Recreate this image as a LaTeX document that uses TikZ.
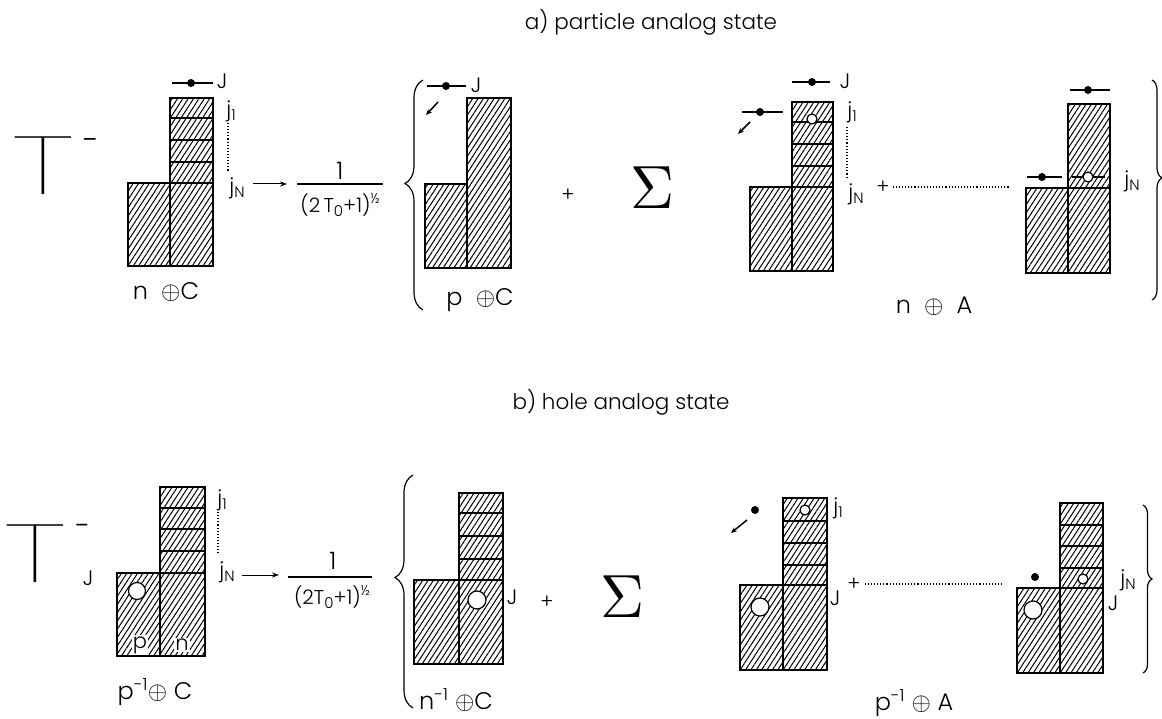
\documentclass[tikz,border=0pt]{standalone}
\usepackage{fontspec}
\usetikzlibrary{patterns.meta,decorations.pathreplacing,arrows.meta}
\IfFontExistsTF{Poppins Light}{\newfontfamily\lf{Poppins Light}}{\newfontfamily\lf{Poppins}}
\IfFontExistsTF{Poppins Thin}{\newfontfamily\tf{Poppins Thin}}{\newfontfamily\tf{Poppins Light}}
\newcommand{\lsub}[1]{\raisebox{-0.35ex}{\fontsize{15}{15}\selectfont #1}}
\newcommand{\lsup}[1]{\raisebox{0.9ex}{\fontsize{14}{14}\selectfont #1}}
\begin{document}
\begin{tikzpicture}[x=1pt,y=-1pt,
  hatch/.style={draw,line width=1.6pt,pattern={Lines[angle=57,distance=4.5pt,line width=1pt]}},
  hole/.style={draw,fill=white,line width=1.2pt},
  part/.style={line width=1.4pt},
  lbl/.style={inner sep=0pt,font=\lf\fontsize{24}{28}\selectfont},
  frc/.style={inner sep=0pt,font=\lf\fontsize{20}{24}\selectfont},
  jlab/.style={inner sep=0pt,font=\lf\fontsize{21}{24}\selectfont},
  small/.style={inner sep=0pt,font=\lf\fontsize{20}{22}\selectfont},
  ttl/.style={inner sep=0pt,font=\lf\fontsize{21.5}{24}\selectfont},
  bigT/.style={inner sep=0pt,font=\tf\fontsize{82}{82}\selectfont,xscale=1.6},
  arr/.style={-{Stealth[length=7pt,width=5pt]},line width=1pt},
  sarr/.style={-{Stealth[length=6pt,width=5pt]},line width=1.5pt},
  dots/.style={dotted,line width=1.1pt},
  brc/.style={decorate,line width=1.2pt},
]
\useasboundingbox (0,0) rectangle (1162,719);

% titles
\node[ttl] (ta) at (651,22) {a) particle analog state};
\node[ttl] (tb) at (621,402) {b) hole analog state};

%================ TOP ROW ================
\node[bigT] (T1) at (43,166) {T};
\node[inner sep=0pt,font=\lf\fontsize{30}{30}\selectfont] (T1m) at (91,145) {-};

% A1
\draw[hatch] (170,98) rectangle (213,118);
\draw[hatch] (170,118) rectangle (213,140);
\draw[hatch] (170,140) rectangle (213,162);
\draw[hatch] (170,162) rectangle (213,183);
\draw[hatch] (128,183) rectangle (170,266);
\draw[hatch] (170,183) rectangle (213,266);
\draw[part] (172,83) -- (213,83); \fill (191,83) circle (4);
\node[jlab] (JA1) at (222,81) {J};
\node[jlab] (j1A1) at (231,111) {j\lsub{1}};
\node[jlab] (jNA1) at (237,188) {j\lsub{N}};
\draw[dots] (228,123) -- (228,172);
\coordinate (aA1s) at (253,184);
\coordinate (aA1e) at (287,184);
\draw[arr] (aA1s) -- (aA1e);
\node[lbl] (numA) at (340,171) {1};
\draw[line width=1.1pt] (297,184) -- (383,184);
\node[frc] (denA) at (340,205) {(2\,T\lsub{0}+1)\lsup{½}};
\node[lbl] (lA1) at (166,292) {n\ \ $\oplus$C};

% A2
\draw[brc,decoration={brace,amplitude=18pt,aspect=0.55}] (423,310) -- (423,80);
\draw[hatch] (425,184) rectangle (467,268);
\draw[hatch] (467,98) rectangle (511,268);
\draw[part] (427,86) -- (466,86); \fill (446,86) circle (4);
\node[jlab] (JA2) at (476,85) {J};
\coordinate (sA2a) at (438,102);
\coordinate (sA2b) at (426,115);
\draw[sarr] (sA2a) -- (sA2b);
\node[lbl] (lA2) at (480,300) {p\ \ $\oplus$C};
\node[small] (plusA1) at (568,195) {+};
\node[scale=6.1,inner sep=0pt] (sigA) at (653,188) {$\Sigma$};

% A3
\draw[hatch] (792,102) rectangle (833,122);
\draw[hatch] (792,122) rectangle (833,144);
\draw[hatch] (792,144) rectangle (833,166);
\draw[hatch] (792,166) rectangle (833,187);
\draw[hatch] (750,187) rectangle (792,271);
\draw[hatch] (792,187) rectangle (833,271);
\draw[hole] (812,119) circle (5);
\draw[part] (792,82) -- (830,82); \fill (812,82) circle (4);
\node[jlab] (JA3) at (845,81) {J};
\draw[part] (742,112) -- (783,112); \fill (760,112) circle (4);
\coordinate (sA3a) at (750,122);
\coordinate (sA3b) at (738,134);
\draw[sarr] (sA3a) -- (sA3b);
\node[jlab] (j1A3) at (852,112) {j\lsub{1}};
\node[jlab] (jNA3) at (856,194) {j\lsub{N}};
\draw[dots] (847,127) -- (847,177);
\node[small] (plusA2) at (883,187) {+};
\coordinate (dA3e) at (1010,187);
\draw[dots] (plusA2.east) ++(3,0) -- (dA3e);

% A4
\draw[hatch] (1068,104) rectangle (1110,188);
\draw[hatch] (1026,188) rectangle (1068,273);
\draw[hatch] (1068,188) rectangle (1110,273);
\draw[part] (1072,177) -- (1105,177);
\draw[hole] (1088,177) circle (5);
\draw[part] (1070,90) -- (1110,90); \fill (1088,90) circle (4);
\draw[part] (1027,177) -- (1062,177); \fill (1042,177) circle (4);
\node[jlab] (jNA4) at (1132,181) {j\lsub{N}};
\draw[brc,decoration={brace,amplitude=10pt,aspect=0.445}] (1152,80) -- (1152,300);
\node[lbl] (lA3) at (934,306) {n\ \ $\oplus$\ \ A};

%================ BOTTOM ROW ================
\node[bigT] (T2) at (35,554) {T};
\node[inner sep=0pt,font=\lf\fontsize{28}{28}\selectfont] (T2m) at (83,530) {-};
\node[jlab] (JB1) at (88,578) {J};

% B1
\draw[hatch] (160,487) rectangle (205,508);
\draw[hatch] (160,508) rectangle (205,529);
\draw[hatch] (160,529) rectangle (205,551);
\draw[hatch] (160,551) rectangle (205,573);
\draw[hatch] (117,573) rectangle (160,656);
\draw[hatch] (160,573) rectangle (205,656);
\draw[hole] (137,591) circle (8.5);
\node[jlab,fill=white,inner sep=1pt] (pB1) at (140,645) {p};
\node[jlab,fill=white,inner sep=1pt] (nB1) at (182,645) {n};
\node[jlab] (j1B1) at (222,500) {j\lsub{1}};
\node[jlab] (jNB1) at (227,572) {j\lsub{N}};
\draw[dots] (218,512) -- (218,553);
\coordinate (aB1s) at (242,575);
\coordinate (aB1e) at (279,575);
\draw[arr] (aB1s) -- (aB1e);
\node[lbl] (numB) at (333,561) {1};
\draw[line width=1.1pt] (288,577) -- (372,577);
\node[frc] (denB) at (332,597) {(2T\lsub{0}+1)\lsup{½}};
\node[lbl] (lB1) at (155,692) {p\textsuperscript{-1}$\oplus$ C};

% B2
\draw[brc,decoration={brace,amplitude=18pt,aspect=0.56}] (413,708) -- (413,475);
\draw[hatch] (459,493) rectangle (503,513);
\draw[hatch] (459,513) rectangle (503,536);
\draw[hatch] (459,536) rectangle (503,559);
\draw[hatch] (459,559) rectangle (503,580);
\draw[hatch] (414,580) rectangle (459,664);
\draw[hatch] (459,580) rectangle (503,664);
\draw[hole] (477,600) circle (9);
\node[jlab] (JB2) at (512,597) {J};
\node[small] (plusB1) at (547,602) {+};
\node[scale=6.1,inner sep=0pt] (sigB) at (623,597) {$\Sigma$};
\node[lbl] (lB2) at (456,700) {n\textsuperscript{-1} $\oplus$C};

% B3
\draw[hatch] (783,498) rectangle (827,521);
\draw[hatch] (783,521) rectangle (827,543);
\draw[hatch] (783,543) rectangle (827,565);
\draw[hatch] (783,565) rectangle (827,585);
\draw[hatch] (740,585) rectangle (783,670);
\draw[hatch] (783,585) rectangle (827,670);
\draw[hole] (805,510) circle (5);
\draw[hole] (760,607) circle (9);
\fill (755,510) circle (4);
\coordinate (sB3a) at (747,520);
\coordinate (sB3b) at (731,533);
\draw[sarr] (sB3a) -- (sB3b);
\node[jlab] (j1B3) at (838,508) {j\lsub{1}};
\node[jlab] (JB3) at (835,598) {J};
\node[small] (plusB2) at (854,584) {+};
\coordinate (dB3e) at (1003,584);
\draw[dots] (plusB2.east) ++(4,0) -- (dB3e);

% B4
\draw[hatch] (1060,503) rectangle (1103,525);
\draw[hatch] (1060,525) rectangle (1103,546);
\draw[hatch] (1060,546) rectangle (1103,568);
\draw[hatch] (1060,568) rectangle (1103,588);
\draw[hatch] (1017,588) rectangle (1060,673);
\draw[hatch] (1060,588) rectangle (1103,673);
\draw[hole] (1083,579) circle (5);
\draw[hole] (1033,610) circle (9);
\fill (1035,577) circle (4);
\node[jlab] (jNB4) at (1128,580) {j\lsub{N}};
\node[jlab] (JB4) at (1113,603) {J};
\draw[brc,decoration={brace,amplitude=9pt,aspect=0.44}] (1143,505) -- (1143,673);
\node[lbl] (lB3) at (914,703) {p\textsuperscript{-1} $\oplus$ A};
\end{tikzpicture}
\end{document}
